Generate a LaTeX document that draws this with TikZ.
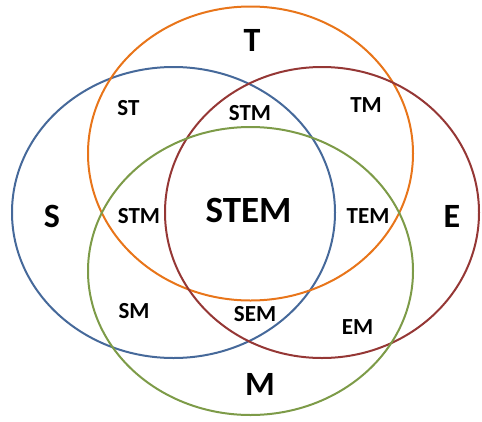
\documentclass[tikz,border=0pt]{standalone}
\usepackage{fontspec}
\setmainfont{Carlito}
\usetikzlibrary{positioning}
\definecolor{sblue}{HTML}{46699A}
\definecolor{torange}{HTML}{E8751A}
\definecolor{ered}{HTML}{953735}
\definecolor{mgreen}{HTML}{7D9B48}
\tikzset{
	ring/.style={line width=2pt},
	small/.style={font=\bfseries\fontsize{23}{23}\selectfont},
	big/.style={font=\bfseries\fontsize{34}{34}\selectfont},
	core/.style={font=\bfseries\fontsize{37}{37}\selectfont},
}
\begin{document}
\begin{tikzpicture}[x=1pt,y=-1pt]
		\useasboundingbox (0,0) rectangle (482,421);
		% the four sets
		\draw[ring,sblue] (173.5,212.5) ellipse [x radius=161.5pt, y radius=145.5pt];
		\draw[ring,torange] (250.5,153.5) ellipse [x radius=162.5pt, y radius=147pt];
		\draw[ring,ered] (322,212.5) ellipse [x radius=157pt, y radius=145.5pt];
		\draw[ring,mgreen] (250.5,271) ellipse [x radius=162.5pt, y radius=144pt];
		% set names
		\node[big] (t) at (252,40.5) {T};
		\node[big] (s) at (52,216) {S};
		\node[big] (e) at (452,216) {E};
		\node[big] (m) at (260,384) {M};
		\node[core] (stem) at (248.5,210) {STEM};
		% overlaps
		\node[small] (st) at (128.5,108) {ST};
		\node[small] (stmt) at (250,113.5) {STM};
		\node[small] (tm) at (366,105) {TM};
		\node[small] (stml) at (139,216) {STM};
		\node[small] (tem) at (368,216) {TEM};
		\node[small] (sm) at (134,311.5) {SM};
		\node[small] (sem) at (255,314.5) {SEM};
		\node[small] (em) at (357.5,327.5) {EM};
\end{tikzpicture}
\end{document}
